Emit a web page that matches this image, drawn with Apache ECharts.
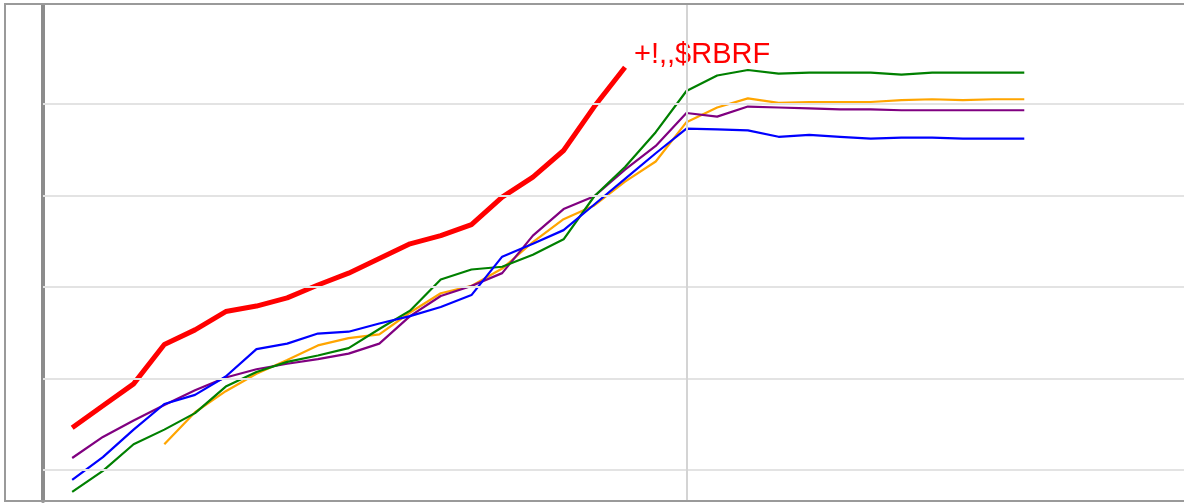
<!DOCTYPE html>
<html>
<head>
<meta charset="utf-8">
<script src="https://cdn.jsdelivr.net/npm/echarts@6/dist/echarts.min.js"></script>
<style>
  html, body { margin: 0; padding: 0; background: #fff; }
  #chart { width: 1184px; height: 503px; }
</style>
</head>
<body>
<div id="chart"></div>
<script>
// values, one entry per step (null = no value yet)
var redValues = [46, 70, 94, 137, 153, 173, 179, 188, 202, 215, 231, 247, 256, 268, 298, 320, 349, 397, 440];
var greenValues = [-24, -1, 28, 44, 62, 91, 107, 118, 125, 133, 154, 174, 208, 219, 222, 235, 252, 299, 331, 369,
  414, 431, 437, 433, 434, 434, 434, 432, 434, 434, 434, 434];
var orangeValues = [null, null, null, 28, 63, 86, 105, 120, 136, 144, 148, 172, 193, 201, 220, 249, 274, 289, 315, 337,
  380, 396, 406, 401, 402, 402, 402, 404, 405, 404, 405, 405];
var purpleValues = [13, 36, 54, 71, 87, 101, 110, 116, 121, 127, 138, 168, 190, 201, 215, 256, 285, 299, 328, 354,
  390, 386, 397, 396, 395, 394, 394, 393, 393, 393, 393, 393];
var blueValues = [-11, 14, 44, 72, 82, 102, 132, 138, 149, 151, 160, 168, 178, 191, 233, 247, 262, 290, 318, 346,
  373, 372, 371, 364, 366, 364, 362, 363, 363, 362, 362, 362];
var hGridValues = [0, 100, 200, 300, 400];
var vGridValues = [20];
var redLabel = '+!,,$RBRF';

function pairs(arr) {
  return arr.map(function (v, i) { return [i, v]; });
}

function lineSeries(name, values, color, width) {
  return {
    name: name,
    type: 'line',
    data: pairs(values),
    showSymbol: false,
    symbol: 'none',
    connectNulls: false,
    lineStyle: { color: color, width: width },
    itemStyle: { color: color },
    emphasis: { disabled: true }
  };
}

var chart = echarts.init(document.getElementById('chart'));

var red = lineSeries('red', redValues, '#ff0000', 5);
red.endLabel = {
  show: true,
  formatter: redLabel,
  color: '#ff0000',
  fontSize: 29,
  fontFamily: 'Liberation Sans, Arial, sans-serif',
  distance: 9,
  offset: [0, -12]
};

// grid lines drawn as mark lines, only where the picture has them
var gridHelper = {
  type: 'line',
  data: [],
  silent: true,
  z: 1,
  markLine: {
    silent: true,
    symbol: 'none',
    label: { show: false },
    emphasis: { disabled: true },
    animation: false,
    data: hGridValues.map(function (v) {
      return { yAxis: v, lineStyle: { color: '#e3e3e3', width: 2, type: 'solid' } };
    }).concat(vGridValues.map(function (v) {
      return { xAxis: v, lineStyle: { color: '#d4d4d4', width: 2, type: 'solid' } };
    }))
  }
};

chart.setOption({
  animation: false,
  backgroundColor: '#fff',
  grid: { left: 43, right: 0, top: 5, bottom: 2 },
  xAxis: {
    type: 'value',
    min: -0.95,
    max: 36.2,
    axisLine: { show: false },
    axisTick: { show: false },
    axisLabel: { show: false },
    splitLine: { show: false }
  },
  yAxis: {
    type: 'value',
    min: -34,
    max: 508,
    axisLine: { show: true, onZero: false, lineStyle: { color: '#8c8c8c', width: 4 } },
    axisTick: { show: false },
    axisLabel: { show: false },
    splitLine: { show: false }
  },
  graphic: [{
    type: 'rect',
    silent: true,
    shape: { x: 5, y: 4, width: 1200, height: 497 },
    style: { fill: null, stroke: '#9a9a9a', lineWidth: 2 },
    z: 100
  }],
  series: [
    gridHelper,
    lineSeries('orange', orangeValues, '#ffa500', 2.2),
    lineSeries('purple', purpleValues, '#800080', 2.2),
    lineSeries('green', greenValues, '#008000', 2.2),
    lineSeries('blue', blueValues, '#0000ff', 2.2),
    red
  ]
});
red.lineStyle.width = 5;
</script>
</body>
</html>
